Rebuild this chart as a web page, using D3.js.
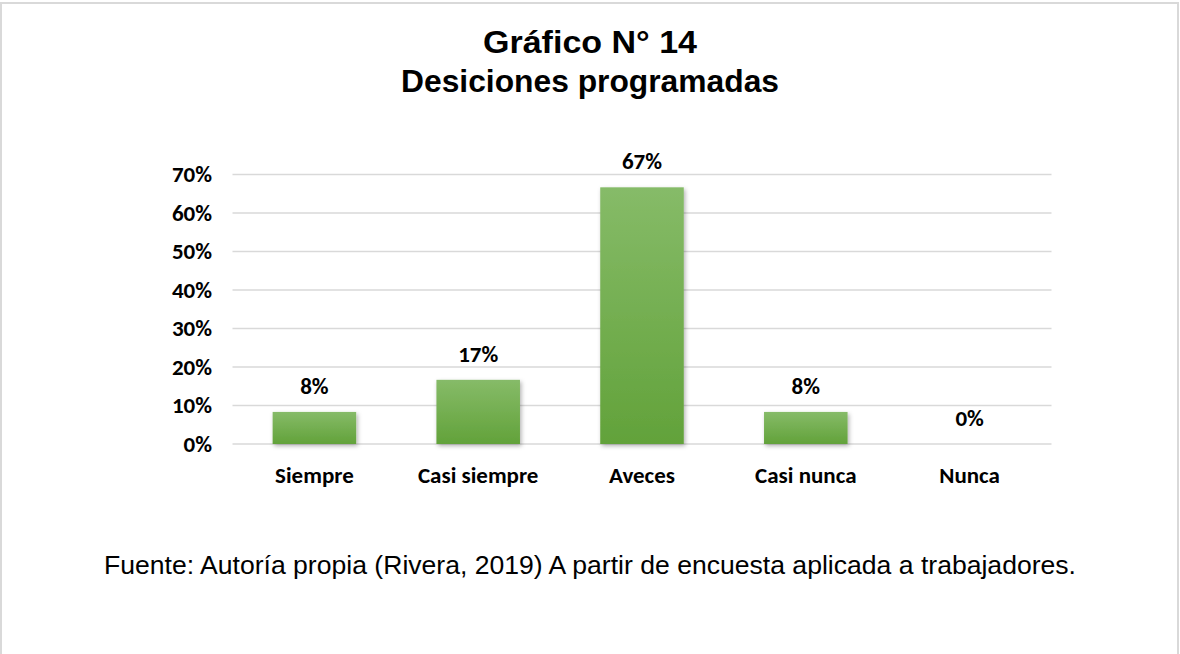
<!DOCTYPE html>
<html>
  <head>
    <meta charset="utf-8">
    <title>Desiciones programadas</title>
    <style>
      body { margin: 0; background: #fff; }
      svg { display: block; }
    </style>
  </head>
  <body>
    <div id="chart"></div>
    <script src="https://d3js.org/d3.v7.min.js"></script>
    <script>
      var categories = ["Siempre", "Casi siempre", "Aveces", "Casi nunca", "Nunca"];
      var values = [0.0833, 0.1667, 0.6667, 0.0833, 0];
      var valueLabels = ["8%", "17%", "67%", "8%", "0%"];
      var yTicks = [0, 0.1, 0.2, 0.3, 0.4, 0.5, 0.6, 0.7];

      var width = 1180, height = 654;
      var labelFont = "Carlito, Lato, sans-serif";
      var labelSize = 23;

      var svg = d3.select("#chart").append("svg")
        .attr("width", width)
        .attr("height", height);

      // outer frame (top, left, right)
      svg.append("path")
        .attr("d", "M1,654 L1,3 L1178,3 L1178,654")
        .attr("fill", "none")
        .attr("stroke", "#d9d9d9")
        .attr("stroke-width", 2);

      var defs = svg.append("defs");
      var grad = defs.append("linearGradient")
        .attr("id", "barGrad")
        .attr("x1", 0).attr("y1", 0).attr("x2", 0).attr("y2", 1);
      grad.append("stop").attr("offset", "0%").attr("stop-color", "#86bb68");
      grad.append("stop").attr("offset", "100%").attr("stop-color", "#62a23a");

      var shadow = defs.append("filter")
        .attr("id", "shadow")
        .attr("x", "-20%").attr("y", "-20%")
        .attr("width", "140%").attr("height", "140%");
      shadow.append("feDropShadow")
        .attr("dx", 1.5).attr("dy", 2)
        .attr("stdDeviation", 2)
        .attr("flood-color", "#000")
        .attr("flood-opacity", 0.3);

      var x = d3.scaleBand()
        .domain(categories)
        .range([232.5, 1051.5])
        .paddingInner(0.49)
        .paddingOuter(0.245);

      var y = d3.scaleLinear()
        .domain([0, 0.7])
        .range([444, 174.5]);

      // gridlines
      svg.append("g")
        .selectAll("line")
        .data(yTicks)
        .enter()
        .append("line")
        .attr("x1", 232.5)
        .attr("x2", 1051.5)
        .attr("y1", function(d) { return y(d); })
        .attr("y2", function(d) { return y(d); })
        .attr("stroke", "#d9d9d9")
        .attr("stroke-width", 1.5);

      // y axis labels
      var yAxis = d3.axisLeft(y)
        .tickValues(yTicks)
        .tickSize(0)
        .tickPadding(0)
        .tickFormat(d3.format(".0%"));
      var gy = svg.append("g")
        .attr("transform", "translate(212,0)")
        .call(yAxis);
      gy.select(".domain").remove();
      gy.selectAll("text")
        .attr("font-family", labelFont)
        .attr("font-weight", "bold")
        .attr("font-size", labelSize)
        .attr("fill", "#000");

      // bars
      svg.append("g")
        .selectAll("rect")
        .data(values)
        .enter()
        .append("rect")
        .attr("x", function(d, i) { return x(categories[i]); })
        .attr("width", x.bandwidth())
        .attr("y", function(d) { return y(d); })
        .attr("height", function(d) { return y(0) - y(d); })
        .attr("fill", "url(#barGrad)")
        .attr("filter", "url(#shadow)");

      // value labels
      svg.append("g")
        .selectAll("text")
        .data(values)
        .enter()
        .append("text")
        .attr("x", function(d, i) { return x(categories[i]) + x.bandwidth() / 2; })
        .attr("y", function(d) { return y(d) - 18; })
        .attr("text-anchor", "middle")
        .attr("font-family", labelFont)
        .attr("font-weight", "bold")
        .attr("font-size", labelSize)
        .text(function(d, i) { return valueLabels[i]; });

      // x axis labels
      var xAxis = d3.axisBottom(x).tickSize(0).tickPadding(0);
      var gx = svg.append("g")
        .attr("transform", "translate(0,467)")
        .call(xAxis);
      gx.select(".domain").remove();
      gx.selectAll("text")
        .attr("font-family", labelFont)
        .attr("font-weight", "bold")
        .attr("font-size", labelSize)
        .attr("fill", "#000");

      // title
      var title = svg.append("text")
        .attr("text-anchor", "middle")
        .attr("font-family", "'Liberation Sans', Arial, sans-serif")
        .attr("font-weight", "bold")
        .attr("font-size", 31);
      title.append("tspan").attr("x", 590).attr("y", 53)
        .attr("textLength", 214).attr("lengthAdjust", "spacingAndGlyphs")
        .text("Gráfico N° 14");
      title.append("tspan").attr("x", 590).attr("y", 92)
        .attr("textLength", 378).attr("lengthAdjust", "spacingAndGlyphs")
        .text("Desiciones programadas");

      // source note
      svg.append("text")
        .attr("x", 590)
        .attr("y", 574)
        .attr("text-anchor", "middle")
        .attr("font-family", "'Liberation Sans', Arial, sans-serif")
        .attr("font-size", 25)
        .attr("textLength", 972)
        .attr("lengthAdjust", "spacingAndGlyphs")
        .attr("fill", "#000")
        .text("Fuente: Autoría propia (Rivera, 2019) A partir de encuesta aplicada a trabajadores.");
    </script>
  </body>
</html>
